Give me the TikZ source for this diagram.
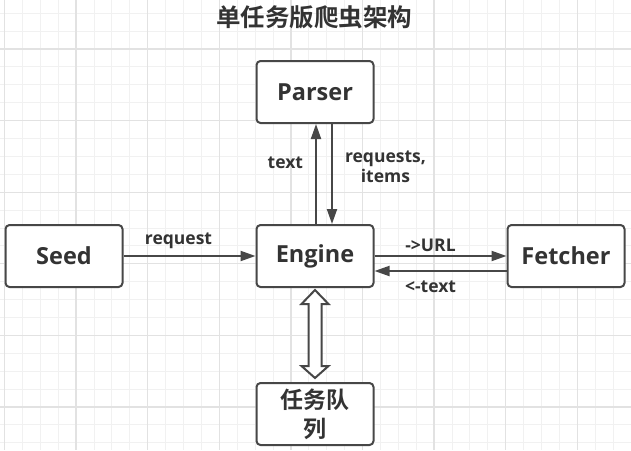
\documentclass[tikz,border=0pt]{standalone}
\usepackage{fontspec}
\setmainfont{Open Sans}
\newfontfamily\cjk{Noto Sans CJK SC}[BoldFont={Noto Sans CJK SC Bold}]
\usepackage{xcolor}
\usetikzlibrary{positioning, calc}
\usetikzlibrary{arrows.meta}
\definecolor{ink}{HTML}{333333}
\definecolor{edge}{HTML}{474747}
\definecolor{gridlo}{HTML}{F1F1F1}
\definecolor{gridhi}{HTML}{E2E2E2}
\tikzstyle{process} = [rectangle, rounded corners=4pt, minimum width=117pt, minimum height=62pt, inner sep=0pt, text centered, draw=edge, line width=2pt, fill=white, text=ink, font=\fontsize{23.5}{29}\selectfont\bfseries, align=center]
\tikzstyle{arrow} = [draw=edge, line width=2pt, -{Triangle[length=15pt, width=10pt]}]
\tikzstyle{tag} = [text=ink, font=\fontsize{17.5}{20}\selectfont\bfseries, inner sep=2pt, align=center]
\tikzstyle{gridminor} = [draw=gridlo, line width=1pt]
\tikzstyle{gridmajor} = [draw=gridhi, line width=1.3pt]

\begin{document}
\begin{tikzpicture}[x=1pt, y=-1pt, node distance=0pt]
    \fill[white] (0,0) rectangle (631,450);
    \useasboundingbox (0,0) rectangle (631,450);

    % background grid
    \foreach \i in {0,...,35} \draw[gridminor] ({4.5+17.9*\i},0) -- ++(0,450);
    \foreach \i in {0,...,24} \draw[gridminor] (0,{13.2+17.9*\i}) -- ++(631,0);
    \foreach \i in {0,...,8} \draw[gridmajor] ({4.5+71.6*\i},0) -- ++(0,450);
    \foreach \i in {0,...,5} \draw[gridmajor] (0,{49+71.6*\i}) -- ++(631,0);

    \node (title) [text=ink, font=\cjk\fontsize{24.5}{28}\selectfont\bfseries] at (314,17) {单任务版爬虫架构};

    \node (engine) [process] at (315,256) {Engine};
    \node (seed) [process, left=132pt of engine] {Seed};
    \node (fetcher) [process, right=132pt of engine] {Fetcher};
    \node (parser) [process, above=100pt of engine] {Parser};
    \node (queue) [process, below=94pt of engine, font=\cjk\fontsize{23}{29}\selectfont\bfseries] {任务队\\列};

    \draw[arrow] (seed)--(engine) node[tag, midway, above, xshift=-11pt, yshift=4pt] {request};
    \draw[arrow] (engine)--(fetcher) node[tag, midway, above, xshift=-10pt, yshift=1pt] {->URL};
    \draw[arrow] ([yshift=-15pt]fetcher.west)--([yshift=-15pt]engine.east) node[tag, midway, below, xshift=-10pt, yshift=-7pt] {<-text};

    \draw[arrow] ([xshift=1pt]engine.north)--([xshift=1pt]parser.south) node[tag, midway, left, xshift=-10pt, yshift=11pt] {text};
    \draw[arrow] ([xshift=17pt]parser.south)--([xshift=17pt]engine.north) node[tag, midway, right, xshift=10pt, yshift=7pt] {requests,\\items};

    % hollow double arrow to the queue
    \draw[draw=edge, line width=2pt, fill=white, line join=miter]
        let \p1=(engine.south), \p2=(queue.north) in
        (\x1,\y1-2pt) -- (\x1+13.5pt,\y1-16pt) -- (\x1+6.5pt,\y1-16pt) -- (\x1+6.5pt,\y2+16pt)
        -- (\x1+13.5pt,\y2+16pt) -- (\x1,\y2+4pt) -- (\x1-13.5pt,\y2+16pt) -- (\x1-6.5pt,\y2+16pt)
        -- (\x1-6.5pt,\y1-16pt) -- (\x1-13.5pt,\y1-16pt) -- cycle;

\end{tikzpicture}
\end{document}
